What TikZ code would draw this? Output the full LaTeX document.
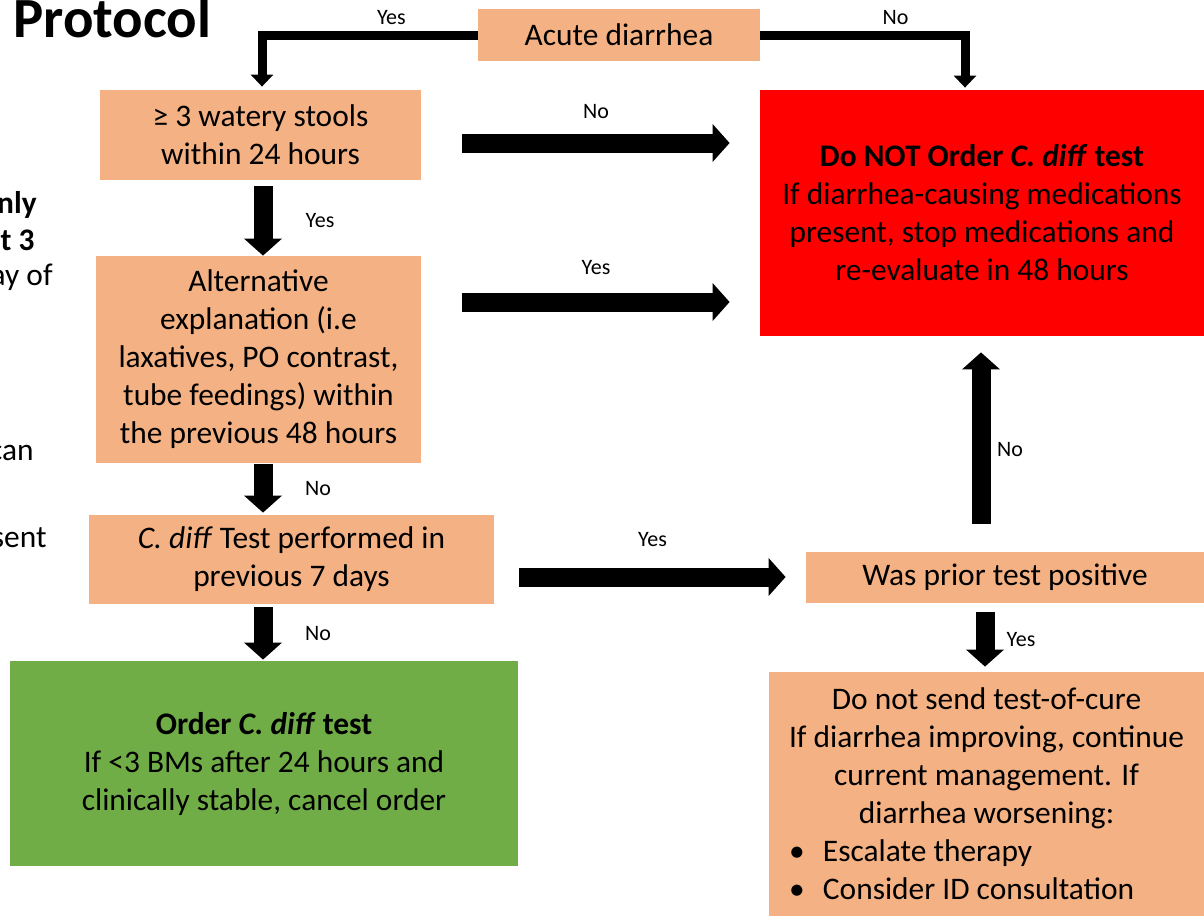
\documentclass[tikz,border=0pt]{standalone}
\usepackage{fontspec}
\setmainfont{Carlito}
\usetikzlibrary{arrows.meta}

\definecolor{boxorange}{HTML}{F4B183}
\definecolor{boxred}{HTML}{FF0000}
\definecolor{boxgreen}{HTML}{70AD47}

\begin{document}
\begin{tikzpicture}[
            x=0.5pt, y=-0.5pt,
            stepbox/.style={fill=boxorange, inner sep=0pt, align=center, font=\fontsize{15.7}{19}\selectfont},
            stopbox/.style={stepbox, fill=boxred},
            gobox/.style={stepbox, fill=boxgreen},
            choice/.style={font=\fontsize{11}{13}\selectfont, inner sep=0pt},
            bigarrow/.style={line width=9.5pt, -{Triangle[length=8.5pt, width=18.5pt]}},
            elbow/.style={line width=4.5pt, -{Triangle[length=6pt, width=11pt]}},
            sidetext/.style={anchor=base east, inner sep=0pt}
        ]
        \useasboundingbox (0,0) rectangle (1204,916);

        % Title and cut-off side text
        \node[anchor=base west, inner sep=0pt, font=\fontsize{28.4}{32}\selectfont\bfseries] (title) at (13,37) {Protocol};
        \node[sidetext, font=\fontsize{15.7}{19}\selectfont\bfseries] (side1) at (37,213) {nly};
        \node[sidetext, font=\fontsize{15.7}{19}\selectfont\bfseries] (side2) at (35,250) {t 3};
        \node[sidetext, font=\fontsize{15.7}{19}\selectfont] (side3) at (53,285) {ay of};
        \node[sidetext, font=\fontsize{15.7}{19}\selectfont] (side4) at (34,460) {can};
        \node[sidetext, font=\fontsize{15.7}{19}\selectfont] (side5) at (47,547) {sent};

        % Left column
        \node[stepbox, minimum width=141pt, minimum height=26pt] (acute) at (619,35) {Acute diarrhea};
        \node[stepbox, minimum width=160.5pt, minimum height=45pt] (stools) at (260.5,135) {≥ 3 watery stools\\within 24 hours};
        \node[stepbox, minimum width=162.5pt, minimum height=103.5pt] (alt) at (258.5,359.5) {Alternative\\explanation (i.e\\laxatives, PO contrast,\\tube feedings) within\\the previous 48 hours};
        \node[stepbox, minimum width=202.5pt, minimum height=44.5pt] (cdiff) at (291.5,559.5) {\textit{C. diff} Test performed in\\previous 7 days};
        \node[gobox, minimum width=254pt, minimum height=102.5pt] (order) at (264,763.5) {\textbf{Order \textit{C. diff} test}\\If <3 BMs after 24 hours and\\clinically stable, cancel order};

        % Right column
        \node[stopbox, minimum width=222pt, minimum height=123pt] (donot) at (982,213) {\textbf{Do NOT Order \textit{C. diff} test}\\If diarrhea-causing medications\\present, stop medications and\\re-evaluate in 48 hours};
        \node[stepbox, minimum width=199pt, minimum height=25.5pt] (prior) at (1005,577) {Was prior test positive};
        \node[stepbox, minimum width=217.5pt, minimum height=122pt] (cure) at (986.5,794) {Do not send test-of-cure\\If diarrhea improving, continue\\current management. If\\diarrhea worsening:\\
            \makebox[217.5pt][l]{\hspace{10pt}\makebox[17pt][l]{\textbullet}Escalate therapy}\\
            \makebox[217.5pt][l]{\hspace{10pt}\makebox[17pt][l]{\textbullet}Consider ID consultation}};

        % Split from the start
        \draw[elbow] (acute.west) -| ([shift={(1.5,-3)}]stools.north) node[choice, pos=0.2, yshift=8.5pt] {Yes};
        \draw[elbow] (acute.east) -| ([shift={(-17,-2)}]donot.north) node[choice, pos=0.33, yshift=8.5pt] {No};

        % Arrows to the right
        \draw[bigarrow] ([shift={(41,8)}]stools.east) -- ([shift={(-30,-70)}]donot.west) node[choice, midway, yshift=15.5pt] {No};
        \draw[bigarrow] ([shift={(41,-57.5)}]alt.east) -- ([shift={(-30,89)}]donot.west) node[choice, midway, yshift=17pt] {Yes};
        \draw[bigarrow] ([shift={(25,17.5)}]cdiff.east) -- ([shift={(-20,0)}]prior.west) node[choice, midway, yshift=18.5pt] {Yes};

        % Arrows down the left
        \draw[bigarrow] ([shift={(2.5,6)}]stools.south) -- ([shift={(4.5,0)}]alt.north) node[choice, midway, xshift=28.5pt] {Yes};
        \draw[bigarrow] ([shift={(4.5,1)}]alt.south) -- ([shift={(-28.5,-2)}]cdiff.north) node[choice, midway, xshift=27.5pt] {No};
        \draw[bigarrow] ([shift={(-28.5,3)}]cdiff.south) -- ([shift={(-1,-1)}]order.north) node[choice, midway, xshift=27.5pt] {No};

        % Arrows on the right
        \draw[bigarrow] ([shift={(-20,9.5)}]prior.south) -- ([shift={(-1.5,-5)}]cure.north) node[choice, midway, xshift=18pt] {Yes};
        \draw[bigarrow] ([shift={(-24,-27.5)}]prior.north) -- ([shift={(-1,16)}]donot.south) node[choice, midway, xshift=14.5pt, yshift=-6pt] {No};

    \end{tikzpicture}
\end{document}
